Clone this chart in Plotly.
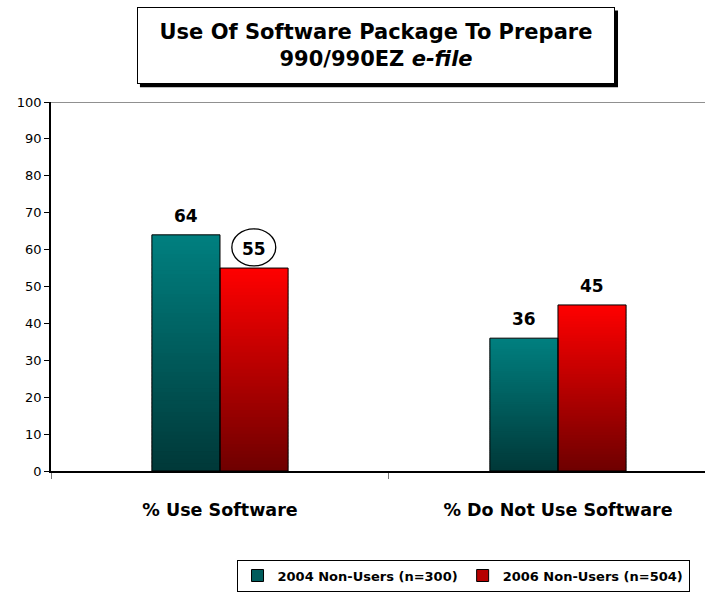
import plotly.graph_objects as go

categories = ["% Use Software", "% Do Not Use Software"]
series_names = ["2004 Non-Users (n=300)", "2006 Non-Users (n=504)"]
values_2004 = [64, 36]
values_2006 = [55, 45]
y_ticks = [0, 10, 20, 30, 40, 50, 60, 70, 80, 90, 100]

FONT = "Tahoma, DejaVu Sans, Verdana, sans-serif"

# gradient colours (top -> bottom)
grad = {
    "2004": ((0, 128, 128), (0, 56, 56)),
    "2006": ((255, 0, 0), (110, 0, 0)),
}

N = 60
fig = go.Figure()


def seg_trace(vals, key):
    top, bot = grad[key]
    xs, ys, bases, cols = [], [], [], []
    for cat, v in zip(categories, vals):
        for i in range(N):
            b = v * i / N
            h = min(v * (i + 1) / N + v * 0.01, v) - b
            t = (i + 0.5) / N
            c = tuple(round(bot[k] + (top[k] - bot[k]) * t) for k in range(3))
            xs.append(cat)
            ys.append(h)
            bases.append(b)
            cols.append(f"rgb{c}")
    return go.Bar(x=xs, y=ys, base=bases, offsetgroup=key, showlegend=False,
                  marker=dict(color=cols, line=dict(width=0)), hoverinfo="skip")


fig.add_trace(seg_trace(values_2004, "2004"))
fig.add_trace(seg_trace(values_2006, "2006"))

# outlines
for vals, key in ((values_2004, "2004"), (values_2006, "2006")):
    fig.add_trace(go.Bar(x=categories, y=vals, offsetgroup=key, showlegend=False,
                         marker=dict(color="rgba(0,0,0,0)", line=dict(color="black", width=1))))

# legend entries
for name, key in zip(series_names, ("2004", "2006")):
    top, bot = grad[key]
    mid = tuple(round((top[k] + bot[k]) / 2) for k in range(3))
    fig.add_trace(go.Bar(x=[categories[0]], y=[None], name=f"<b>{name}</b>", offsetgroup=key,
                         marker=dict(color=f"rgb{mid}", line=dict(color="black", width=1))))

# value labels
for vals, off in ((values_2004, -0.1), (values_2006, 0.1)):
    for i, v in enumerate(vals):
        fig.add_annotation(x=i + off, y=v, text=f"<b>{v}</b>", showarrow=False,
                           yanchor="bottom", yshift=7, xref="x", yref="y",
                           font=dict(family=FONT, size=17, color="black"))

# circle around the highlighted 2006 value
hv = values_2006[0]
fig.add_shape(type="circle", xref="x", yref="y", x0=0.1 - 0.065, x1=0.1 + 0.065,
              y0=hv + 0.6, y1=hv + 10.6, line=dict(color="black", width=1.3))

# top frame line
fig.add_shape(type="line", xref="paper", yref="y", x0=0, x1=1, y0=100, y1=100,
              line=dict(color="#222", width=1))

# title box shadow (drop shadow behind the title box)
fig.add_shape(type="rect", xref="paper", yref="paper", x0=0.136, x1=0.867,
              y0=1.040, y1=1.248, fillcolor="black", line=dict(width=0), layer="above")

# title box
title_text = "<b>Use Of Software Package To Prepare<br>990/990EZ <i>e-file</i></b>"
fig.add_annotation(
    xref="paper", yref="paper", x=0.497, y=1.152, xanchor="center", yanchor="middle",
    text=title_text, showarrow=False, align="center", width=454, height=53,
    font=dict(family=FONT, size=21, color="black"),
    bgcolor="white", bordercolor="black", borderwidth=1, borderpad=11,
)

fig.update_layout(
    width=705, height=592,
    margin=dict(l=51, r=0, t=102, b=119),
    paper_bgcolor="white", plot_bgcolor="white",
    barmode="group", bargap=0.597, bargroupgap=0,
    font=dict(family=FONT, color="black"),
    showlegend=True,
    legend=dict(orientation="h", x=0.63, xanchor="center", y=-0.24, yanchor="top",
                bordercolor="black", borderwidth=1, bgcolor="white",
                font=dict(family=FONT, size=13, color="black"),
                itemwidth=30, traceorder="normal"),
    xaxis=dict(type="category", range=[-0.5, 1.435], tickson="boundaries",
               ticks="outside", ticklen=6, tickcolor="#777", tickwidth=1,
               showline=True, linecolor="black", linewidth=2, showgrid=False,
               tickfont=dict(family=FONT, size=17.5, color="black"),
               ticklabelstandoff=22, categoryorder="array", categoryarray=categories,
               ticktext=[f"<b>{c}</b>" for c in categories], tickvals=categories),
    yaxis=dict(range=[0, 100], tickvals=y_ticks, ticks="outside", ticklen=5,
               tickcolor="black", showline=True, linecolor="black", linewidth=1.5,
               showgrid=False, zeroline=False,
               tickfont=dict(family=FONT, size=13, color="black")),
)

fig.write_html("out.html")
